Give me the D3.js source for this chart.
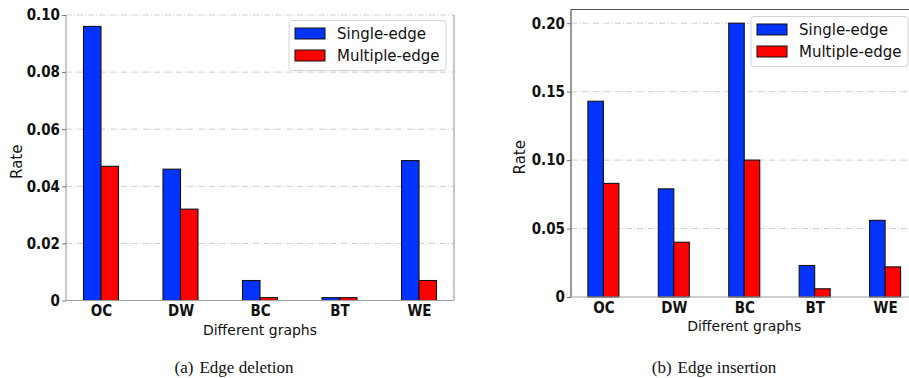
<!DOCTYPE html>
<html>
<head>
<meta charset="utf-8">
<script src="https://cdn.jsdelivr.net/npm/d3@7"></script>
<style>
  html, body { margin: 0; padding: 0; background: #fff; }
  svg { display: block; }
  text { font-family: "DejaVu Sans", sans-serif; fill: #111; }
  .tick text { font-family: "DejaVu Sans Condensed", "DejaVu Sans", sans-serif; font-stretch: condensed; font-weight: bold; }
</style>
</head>
<body>
<svg id="chart" width="909" height="378"></svg>
<script>
// Graph datasets on the x axis
const categories = ["OC", "DW", "BC", "BT", "WE"];
const seriesNames = ["Single-edge", "Multiple-edge"];
const seriesColors = ["#0433ff", "#ff0000"];

// (a) Edge deletion rates
const deletionSingle = [0.096, 0.046, 0.007, 0.001, 0.049];
const deletionMultiple = [0.047, 0.032, 0.001, 0.001, 0.007];
const deletionTicks = [0, 0.02, 0.04, 0.06, 0.08, 0.10];
const deletionTickLabels = ["0", "0.02", "0.04", "0.06", "0.08", "0.10"];

// (b) Edge insertion rates
const insertionSingle = [0.143, 0.079, 0.200, 0.023, 0.056];
const insertionMultiple = [0.083, 0.040, 0.100, 0.006, 0.022];
const insertionTicks = [0, 0.05, 0.10, 0.15, 0.20];
const insertionTickLabels = ["0", "0.05", "0.10", "0.15", "0.20"];

const svg = d3.select("#chart");

function drawPanel(cfg) {
  const g = svg.append("g");
  const x = d3.scaleLinear().domain(cfg.xDomain).range([cfg.left, cfg.right]);
  const y = d3.scaleLinear().domain(cfg.yDomain).range([cfg.bottom, cfg.top]);
  const barW = x(0.22) - x(0);

  // horizontal grid
  g.append("g").selectAll("line").data(cfg.ticks.filter(t => t > 0)).join("line")
    .attr("x1", cfg.left).attr("x2", cfg.right)
    .attr("y1", d => y(d)).attr("y2", d => y(d))
    .attr("stroke", "#cfcfcf").attr("stroke-width", 1)
    .attr("stroke-dasharray", "6,2,1,2");

  // bars
  const series = [cfg.single, cfg.multiple];
  series.forEach((vals, s) => {
    g.append("g").selectAll("rect").data(vals).join("rect")
      .attr("x", (d, i) => x(i) + (s === 0 ? -barW : 0))
      .attr("y", d => y(d))
      .attr("width", barW)
      .attr("height", d => y(0) - y(d))
      .attr("fill", seriesColors[s])
      .attr("stroke", "#111").attr("stroke-width", 1.1);
  });

  // spines
  const sp = g.append("g").attr("fill", "none");
  sp.append("line").attr("x1", cfg.left).attr("x2", cfg.left).attr("y1", cfg.top).attr("y2", cfg.bottom)
    .attr("stroke", cfg.leftSpine).attr("stroke-width", 1.2);
  sp.append("line").attr("x1", cfg.left).attr("x2", cfg.right).attr("y1", cfg.bottom).attr("y2", cfg.bottom)
    .attr("stroke", "#a0a0a0").attr("stroke-width", 1.2);
  if (cfg.topSpine) {
    sp.append("line").attr("x1", cfg.left).attr("x2", cfg.right).attr("y1", cfg.top).attr("y2", cfg.top)
      .attr("stroke", cfg.topSpine).attr("stroke-width", 1.2);
  }
  if (cfg.rightSpine) {
    sp.append("line").attr("x1", cfg.right).attr("x2", cfg.right).attr("y1", cfg.top).attr("y2", cfg.bottom)
      .attr("stroke", cfg.rightSpine).attr("stroke-width", 1.2);
  }

  // y axis
  const yAxis = d3.axisLeft(y).tickValues(cfg.ticks)
    .tickFormat((d, i) => cfg.tickLabels[i]).tickSize(4).tickPadding(2);
  const ya = g.append("g").attr("transform", `translate(${cfg.left},0)`).call(yAxis);
  ya.attr("font-family", null);
  ya.select(".domain").remove();
  ya.selectAll(".tick line").attr("stroke", "#777");
  ya.selectAll(".tick text").attr("font-size", 15).attr("fill", "#111");

  // x axis
  const xAxis = d3.axisBottom(x).tickValues(d3.range(categories.length))
    .tickFormat(i => categories[i]).tickSize(0).tickPadding(5);
  const xa = g.append("g").attr("transform", `translate(0,${cfg.bottom})`).call(xAxis);
  xa.attr("font-family", null);
  xa.select(".domain").remove();
  xa.selectAll(".tick text").attr("font-size", 15).attr("fill", "#111");

  // axis titles
  const cx = (cfg.left + cfg.right) / 2;
  g.append("text").attr("x", cx).attr("y", cfg.bottom + 34)
    .attr("text-anchor", "middle").attr("font-size", 14).text("Different graphs");
  g.append("text")
    .attr("transform", `translate(${cfg.rateX},${(cfg.top + cfg.bottom) / 2 + 4}) rotate(-90)`)
    .attr("text-anchor", "middle").attr("font-size", 15).text("Rate");

  // legend
  const lg = g.append("g").attr("transform", `translate(${cfg.legendX},${cfg.legendY})`);
  lg.append("rect").attr("width", 157).attr("height", 50).attr("rx", 3)
    .attr("fill", "rgba(255,255,255,0.85)").attr("stroke", "#d4d4d4");
  seriesNames.forEach((name, s) => {
    lg.append("rect").attr("x", 6).attr("y", 7.5 + s * 22).attr("width", 30).attr("height", 11)
      .attr("fill", seriesColors[s]).attr("stroke", "#111").attr("stroke-width", 1);
    lg.append("text").attr("x", 48).attr("y", 13 + s * 22).attr("dy", "0.35em")
      .attr("font-size", 15).text(name);
  });

  // caption
  const cap = svg.append("text").attr("x", cfg.captionX).attr("y", 373)
    .attr("text-anchor", "middle")
    .style("font-family", "'Liberation Serif', 'Times New Roman', serif")
    .attr("font-size", 17);
  cap.append("tspan").text(cfg.captionTag);
  cap.append("tspan").attr("dx", 6).text(cfg.captionText);
}

drawPanel({
  left: 66, right: 454, top: 15, bottom: 300.5,
  xDomain: [-0.44, 4.44], yDomain: [0, 0.10],
  single: deletionSingle, multiple: deletionMultiple,
  ticks: deletionTicks, tickLabels: deletionTickLabels,
  leftSpine: "#a0a0a0", topSpine: null, rightSpine: "#a0a0a0",
  rateX: 22, legendX: 289, legendY: 20.5,
  captionX: 234, captionTag: "(a)", captionText: "Edge deletion"
});

drawPanel({
  left: 571, right: 917.5, top: 9.5, bottom: 297,
  xDomain: [-0.46, 4.46], yDomain: [0, 0.21],
  single: insertionSingle, multiple: insertionMultiple,
  ticks: insertionTicks, tickLabels: insertionTickLabels,
  leftSpine: "#555", topSpine: "#555", rightSpine: null,
  rateX: 525, legendX: 751, legendY: 16.5,
  captionX: 714, captionTag: "(b)", captionText: "Edge insertion"
});
</script>
</body>
</html>
